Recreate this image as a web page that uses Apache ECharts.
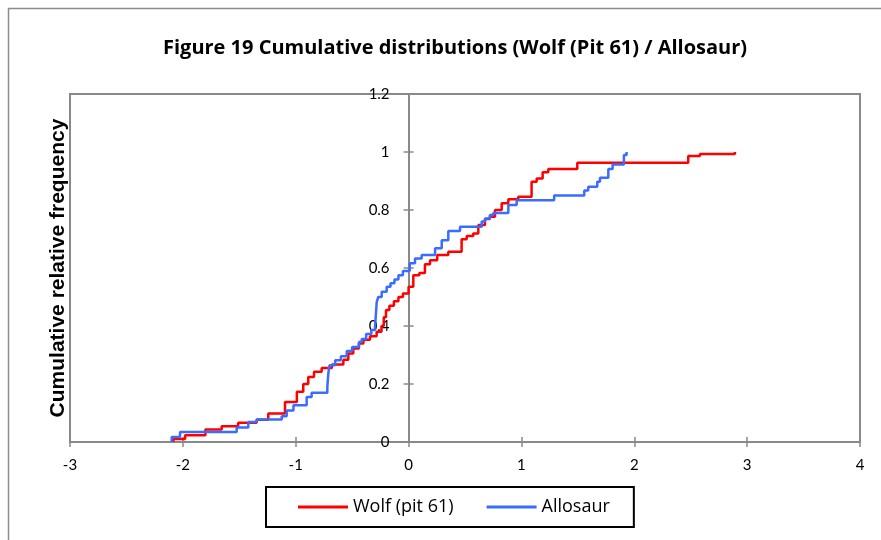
<!DOCTYPE html>
<html>
<head>
<meta charset="utf-8">
<script src="https://cdn.jsdelivr.net/npm/echarts@6/dist/echarts.min.js"></script>
<style>
  html, body { margin: 0; padding: 0; background: #fff; }
  #chart { width: 881px; height: 540px; }
</style>
</head>
<body>
<div id="chart"></div>
<script>
// Empirical cumulative distributions: x = standardized value, y = cumulative relative frequency
const wolfX = [-2.085, -2.085, -1.98, -1.80, -1.656, -1.51, -1.346, -1.243, -1.095, -0.99, -0.933, -0.889, -0.838, -0.77, -0.68, -0.578, -0.534, -0.49, -0.44, -0.40, -0.342, -0.283, -0.24, -0.22, -0.2, -0.17, -0.13, -0.09, -0.05, 0.0, 0.042, 0.095, 0.145, 0.19, 0.254, 0.352, 0.47, 0.515, 0.573, 0.618, 0.677, 0.72, 0.766, 0.825, 0.884, 0.972, 1.09, 1.135, 1.188, 1.238, 1.495, 2.478, 2.582, 2.892];
const wolfY = [0, 0.010, 0.023, 0.043, 0.054, 0.066, 0.077, 0.098, 0.138, 0.173, 0.20, 0.224, 0.242, 0.255, 0.267, 0.284, 0.305, 0.322, 0.34, 0.353, 0.365, 0.38, 0.40, 0.43, 0.455, 0.47, 0.485, 0.50, 0.512, 0.535, 0.575, 0.583, 0.613, 0.627, 0.645, 0.656, 0.699, 0.71, 0.719, 0.748, 0.769, 0.777, 0.80, 0.823, 0.837, 0.846, 0.897, 0.909, 0.93, 0.941, 0.963, 0.986, 0.993, 1.0];

const alloX = [-2.099, -2.099, -2.025, -1.523, -1.42, -1.346, -1.124, -1.08, -1.02, -0.903, -0.859, -0.72, -0.715, -0.71, -0.70, -0.65, -0.60, -0.548, -0.50, -0.44, -0.415, -0.376, -0.33, -0.297, -0.282, -0.268, -0.238, -0.194, -0.16, -0.125, -0.09, -0.05, 0.01, 0.057, 0.116, 0.235, 0.294, 0.352, 0.456, 0.648, 0.677, 0.72, 0.75, 0.884, 0.958, 1.29, 1.557, 1.592, 1.672, 1.696, 1.77, 1.808, 1.908, 1.932];
const alloY = [0, 0.017, 0.0345, 0.05, 0.069, 0.078, 0.089, 0.109, 0.127, 0.155, 0.17, 0.19, 0.215, 0.24, 0.265, 0.282, 0.296, 0.314, 0.328, 0.345, 0.355, 0.372, 0.386, 0.397, 0.483, 0.50, 0.518, 0.535, 0.547, 0.56, 0.575, 0.59, 0.616, 0.633, 0.645, 0.668, 0.696, 0.728, 0.742, 0.76, 0.771, 0.783, 0.79, 0.817, 0.834, 0.85, 0.867, 0.88, 0.897, 0.911, 0.941, 0.957, 0.99, 1.0];

const seriesNames = ['Wolf (pit 61)', 'Allosaur'];
const titleText = 'Figure 19 Cumulative distributions (Wolf (Pit 61) / Allosaur)';
const yAxisTitle = 'Cumulative relative frequency';

const xMin = -3, xMax = 4, xStep = 1;
const yMin = 0, yMax = 1.2, yStep = 0.2;

const zip = (xs, ys) => xs.map((x, i) => [x, ys[i]]);

// plot rectangle
const gridLeft = 70, gridRight = 21, gridTop = 94, gridBottom = 98;
const plotWidth = 881 - gridLeft - gridRight;
// the vertical axis crosses the horizontal one at x = 0
const yAxisShift = -plotWidth * (0 - xMin) / (xMax - xMin);

const axisGray = '#898989';
const labelFont = { fontFamily: 'Lato', fontSize: 15, color: '#000' };

const chart = echarts.init(document.getElementById('chart'), null, { renderer: 'canvas' });

chart.setOption({
  animation: false,
  backgroundColor: '#fff',
  graphic: [{
    type: 'rect',
    shape: { x: 8.5, y: 8.5, width: 900, height: 600 },
    style: { fill: 'none', stroke: '#8c8c8c', lineWidth: 1.5 },
    silent: true
  }],
  title: {
    text: titleText,
    left: 158,
    top: 33,
    textStyle: { fontFamily: 'Open Sans', fontWeight: 'bold', fontSize: 20, color: '#000' }
  },
  legend: {
    data: seriesNames,
    left: 266,
    top: 487,
    orient: 'horizontal',
    padding: [11, 24, 11, 32],
    itemGap: 33,
    itemWidth: 50,
    itemHeight: 3,
    icon: 'rect',
    borderColor: '#000',
    borderWidth: 2,
    textStyle: { fontFamily: 'Open Sans', fontSize: 18, color: '#000' }
  },
  grid: {
    left: gridLeft, top: gridTop, right: gridRight, bottom: gridBottom,
    show: true,
    borderColor: axisGray,
    borderWidth: 2,
    containLabel: false,
    outerBoundsMode: 'none'
  },
  xAxis: [{
    type: 'value',
    min: xMin, max: xMax, interval: xStep,
    axisLine: { show: true, onZero: true, lineStyle: { color: axisGray, width: 2 } },
    axisTick: { show: true, inside: false, length: 5, lineStyle: { color: axisGray, width: 1.5 } },
    axisLabel: Object.assign({ margin: 16 }, labelFont),
    splitLine: { show: false }
  }, {
    type: 'value',
    position: 'bottom',
    min: xMin, max: xMax, interval: xStep,
    axisLine: { show: false, onZero: true },
    axisTick: { show: true, inside: true, length: 5, lineStyle: { color: axisGray, width: 1.5 } },
    axisLabel: { show: false },
    splitLine: { show: false }
  }],
  yAxis: [{
    type: 'value',
    position: 'left',
    offset: yAxisShift,
    min: yMin, max: yMax, interval: yStep,
    name: yAxisTitle,
    nameLocation: 'middle',
    nameGap: 340,
    nameRotate: 90,
    nameTextStyle: { fontFamily: 'Liberation Sans', fontWeight: 'bold', fontSize: 21, color: '#000' },
    axisLine: { show: true, onZero: false, lineStyle: { color: axisGray, width: 2 } },
    axisTick: { show: true, inside: false, length: 5, lineStyle: { color: axisGray, width: 1.5 } },
    axisLabel: Object.assign({ margin: 19 }, labelFont),
    splitLine: { show: false }
  }, {
    type: 'value',
    position: 'left',
    offset: yAxisShift,
    min: yMin, max: yMax, interval: yStep,
    axisLine: { show: false, onZero: false },
    axisTick: { show: true, inside: true, length: 5, lineStyle: { color: axisGray, width: 1.5 } },
    axisLabel: { show: false },
    splitLine: { show: false }
  }],
  series: [{
    name: seriesNames[0],
    type: 'line',
    step: 'end',
    data: zip(wolfX, wolfY),
    showSymbol: false,
    symbol: 'none',
    lineStyle: { color: '#ff0000', width: 2.5 },
    itemStyle: { color: '#ff0000' }
  }, {
    name: seriesNames[1],
    type: 'line',
    step: 'end',
    data: zip(alloX, alloY),
    showSymbol: false,
    symbol: 'none',
    lineStyle: { color: '#3a6cff', width: 2.5 },
    itemStyle: { color: '#3a6cff' }
  }]
});
</script>
</body>
</html>
